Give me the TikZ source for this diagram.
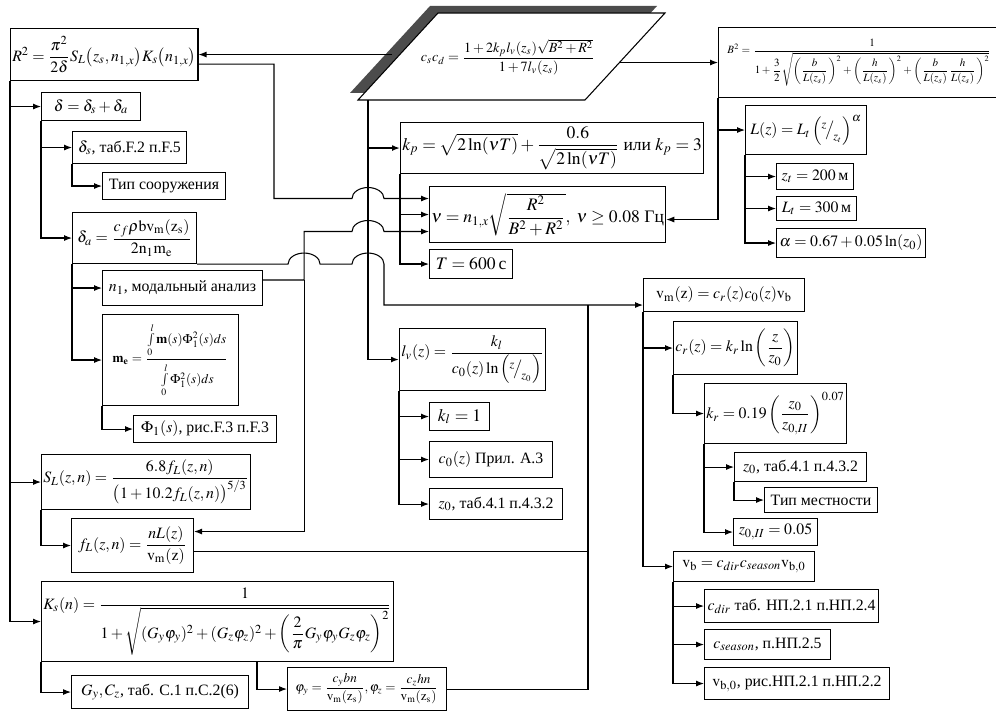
\documentclass[tikz,border=0pt]{standalone}
\usepackage{amsmath}
\usepackage{mathptmx}
\usepackage[no-math]{fontspec}
\setmainfont{Liberation Serif}
\usetikzlibrary{arrows.meta, calc}

\begin{document}
\begin{tikzpicture}[x=0.02cm, y=-0.02cm,
    every node/.style={font=\fontsize{9}{10.5}\selectfont},
    box/.style={rectangle, draw, line width=0.6pt, anchor=north west, inner sep=1pt, align=center},
    sz/.style 2 args={minimum width=#1*0.02cm, minimum height=#2*0.02cm},
    big/.style={font=\fontsize{10}{12}\selectfont},
    small/.style={font=\fontsize{7.5}{9}\selectfont},
    tiny/.style={font=\fontsize{6.3}{7.5}\selectfont},
    conn/.style={line width=0.6pt},
    arrow/.style={conn, -{Latex[length=1.6mm, width=1.2mm]}}]

  \useasboundingbox (0,0) rectangle (996,712);

  \fill[black!70] (350,93) -- (577,93) -- (657,6) -- (430,6) -- cycle;
  \draw[line width=0.6pt, fill=white] (358,100) -- (585,100) -- (665,13) -- (438,13) -- cycle;
  \node[font=\fontsize{8}{9.5}\selectfont] (cscd) at (508,57) {$c_sc_d=\dfrac{1+2k_pl_v(z_s)\sqrt{B^2+R^2}}{1+7l_v(z_s)}$};
  \coordinate (parL) at (392,54);
  \coordinate (parR) at (620,62);
  \coordinate (parB) at (368,100);

  \node[box, sz={183}{52}] (R2) at (10,28) {$R^2=\dfrac{\pi^2}{2\delta}S_L\bigl(z_s,n_{1,x}\bigr)K_s\bigl(n_{1,x}\bigr)$};
  \node[box, sz={99}{28}] (d) at (41,92) {$\delta=\delta_s+\delta_a$};
  \node[box, sz={114}{32}] (ds) at (72,131) {$\delta_s$, таб.F.2 п.F.5};
  \node[box, sz={123}{27}] (ts) at (102,172) {Тип сооружения};
  \node[box, sz={124}{51}] (da) at (72,212) {$\delta_a=\dfrac{c_f\rho\mathrm{bv_m}(\mathrm{z_s})}{2\mathrm{n_1m_e}}$};
  \node[box, sz={160}{35}] (n1) at (102,270) {$n_1$, модальный анализ};
  \node[box, sz={136}{91}, small] (me) at (102,314) {$\mathbf{m}_{\mathbf{e}}=\dfrac{\int\limits_0^l\mathbf{m}(s)\Phi_1^2(s)ds\rule[-5pt]{0pt}{5pt}}{\rule{0pt}{13pt}\int\limits_0^l\Phi_1^2(s)ds}$};
  \node[box, sz={143}{27}] (Phi) at (133,415) {$\Phi_1(s)$, рис.F.3 п.F.3};
  \node[box, sz={197}{55}] (SL) at (41,454) {$S_L(z,n)=\dfrac{6.8f_L(z,n)}{\bigl(1+10.2f_L(z,n)\bigr)^{5/3}}$};
  \node[box, sz={122}{54}] (fL) at (71,518) {$f_L(z,n)=\dfrac{nL(z)}{\mathrm{v_m}(\mathrm{z})}$};
  \node[box, sz={322}{80}] (Ks) at (41,581) {$K_s(n)=\dfrac{1}{1+\sqrt{(G_y\varphi_y)^2+(G_z\varphi_z)^2+\left(\dfrac{2}{\pi}G_y\varphi_yG_z\varphi_z\right)^2}}$};
  \node[box, sz={177}{33}] (Gy) at (71,675) {$G_y,C_z$, таб. C.1 п.C.2(6)};
  \node[box, sz={159}{43}, small] (phi) at (287,667) {$\varphi_y=\dfrac{c_ybn}{\mathrm{v_m}(\mathrm{z_s})},\varphi_z=\dfrac{c_zhn}{\mathrm{v_m}(\mathrm{z_s})}$};

  \node[box, sz={286}{51}, big] (kp) at (400,122) {$k_p=\sqrt{2\ln(\nu T)}+\dfrac{0.6}{\sqrt{2\ln(\nu T)}}$ или $k_p=3$};
  \node[box, sz={234}{56}, big] (nu) at (429,186) {$\nu=n_{1,x}\sqrt{\dfrac{R^2}{B^2+R^2}},\ \nu\geq0.08$ Гц};
  \node[box, sz={83}{29}, big] (T) at (429,249) {$T=600$\,с};
  \node[box, sz={146}{62}] (lv) at (399,328) {$l_v(z)=\dfrac{k_l}{c_0(z)\ln\left({}^{z}\!\big/_{\!z_0}\right)}$};
  \node[box, sz={60}{28}, big] (kl) at (429,402) {$k_l=1$};
  \node[box, sz={123}{36}] (c0) at (429,441) {$c_0(z)$ Прил. А.3};
  \node[box, sz={133}{31}] (zo) at (429,488) {$z_0$, таб.4.1 п.4.3.2};

  \node[box, sz={282}{70}, tiny] (B2) at (718,27) {$B^2=\dfrac{1}{1+\dfrac{3}{2}\sqrt{\left(\dfrac{b}{L(z_s)}\right)^2+\left(\dfrac{h}{L(z_s)}\right)^2+\left(\dfrac{b}{L(z_s)}\dfrac{h}{L(z_s)}\right)^2}}$};
  \node[box, sz={121}{49}] (Lz) at (745,105) {$L(z)=L_t\left({}^{z}\!\big/_{\!z_t}\right)^{\alpha}$};
  \node[box, sz={77}{26}] (zt) at (776,163) {$z_t=200$\,м};
  \node[box, sz={80}{24}] (Lt) at (776,196) {$L_t=300$\,м};
  \node[box, sz={149}{29}] (al) at (776,228) {$\alpha=0.67+0.05\ln(z_0)$};
  \node[box, sz={161}{33}] (vm) at (643,278) {$\mathrm{v_m}(\mathrm{z})=c_r(z)c_0(z)\mathrm{v_b}$};
  \node[box, sz={121}{53}] (cr) at (673,321) {$c_r(z)=k_r\ln\left(\dfrac{z}{z_0}\right)$};
  \node[box, sz={133}{60}] (kr) at (704,383) {$k_r=0.19\left(\dfrac{z_0}{z_{0,II}}\right)^{0.07}$};
  \node[box, sz={132}{29}] (zor) at (734,452) {$z_0$, таб.4.1 п.4.3.2};
  \node[box, sz={113}{25}] (tm) at (764,487) {Тип местности};
  \node[box, sz={84}{27}] (zoii) at (733,518) {$z_{0,II}=0.05$};
  \node[box, sz={141}{30}] (vb) at (673,551) {$\mathrm{v_b}=c_{dir}c_{season}\mathrm{v_{b,0}}$};
  \node[box, sz={174}{33}] (cdir) at (704,589) {$c_{dir}$ таб. НП.2.1 п.НП.2.4};
  \node[box, sz={126}{30}] (cseas) at (704,629) {$c_{season}$, п.НП.2.5};
  \node[box, sz={185}{32}] (vbo) at (704,667) {$\mathrm{v_{b,0}}$, рис.НП.2.1 п.НП.2.2};

  \coordinate (nuA) at ($(nu.west)+(0,-16)$);
  \coordinate (nuC) at ($(nu.west)+(0,17)$);
  \coordinate (nA) at ($(n1.east)+(0,-8)$);
  \coordinate (nx) at ($(nA)+(41,0)$);
  \coordinate (vmIn) at ($(vm.west)+(0,10)$);
  \coordinate (jv) at ($(vmIn)+(-55,0)$);

  \draw[arrow] (parL |- R2.east) -- (R2.east);
  \draw[arrow] (parR |- B2.west) -- (B2.west);
  \draw[arrow, line width=0.9pt] (parB) |- (kp.west);
  \draw[arrow, line width=0.9pt] (parB) |- (lv.west);

  \draw[arrow] ($(R2.south east)+(0,-17)$) -| ($(nuA)+(-155,0)$) -- ($(parB |- nuA)+(-16,0)$)
    arc[start angle=180, end angle=0, x radius=0.32cm, y radius=0.22cm] -- (nuA);
  \draw[arrow] (nA) -- (nx) |- ($(parB |- nuC)+(-16,0)$)
    arc[start angle=180, end angle=0, x radius=0.32cm, y radius=0.22cm] -- (nuC);
  \draw[arrow] (nx) |- ($(fL.east)+(0,-14)$);
  \draw[arrow] (da.south east) -- ($(da.south east -| nx)+(-16,0)$)
    arc[start angle=180, end angle=0, x radius=0.32cm, y radius=0.22cm] -- ($(da.south east -| parB)+(-16,0)$)
    arc[start angle=180, end angle=0, x radius=0.32cm, y radius=0.22cm] |- (vmIn);
  \draw[conn] ($(fL.east)+(0,6)$) -| (jv);
  \draw[conn] (phi.east) -| (jv);

  \draw[arrow] (B2.south west) |- (Lz.west);
  \draw[arrow] (B2.south west) |- ($(nu.east)+(0,5)$);
  \foreach \nd in {zt, Lt, al} \draw[arrow] (Lz.south west) |- (\nd.west);
  \foreach \nd in {nu, T} \draw[arrow] (kp.south west) |- (\nd.west);
  \foreach \nd in {kl, c0, zo} \draw[arrow] (lv.south west) |- (\nd.west);
  \foreach \nd in {cr, vb} \draw[arrow] (vm.south west) |- (\nd.west);
  \draw[arrow] (cr.south west) |- (kr.west);
  \foreach \nd in {zor, zoii} \draw[arrow] (kr.south west) |- (\nd.west);
  \draw[arrow] (zor.south west) |- (tm.west);
  \foreach \nd in {cdir, cseas, vbo} \draw[arrow] (vb.south west) |- (\nd.west);
  \foreach \nd in {d, SL, Ks} \draw[arrow] (R2.south west) |- (\nd.west);
  \foreach \nd in {ds, da} \draw[arrow] (d.south west) |- (\nd.west);
  \draw[arrow] (ds.south west) |- (ts.west);
  \foreach \nd in {n1, me} \draw[arrow] (da.south west) |- (\nd.west);
  \draw[arrow] (me.south west) |- (Phi.west);
  \draw[arrow] (SL.south west) |- (fL.west);
  \draw[arrow] (Ks.south west) |- (Gy.west);
  \draw[arrow] ($(Ks.south west)+(216,0)$) |- (phi.west);
\end{tikzpicture}
\end{document}
